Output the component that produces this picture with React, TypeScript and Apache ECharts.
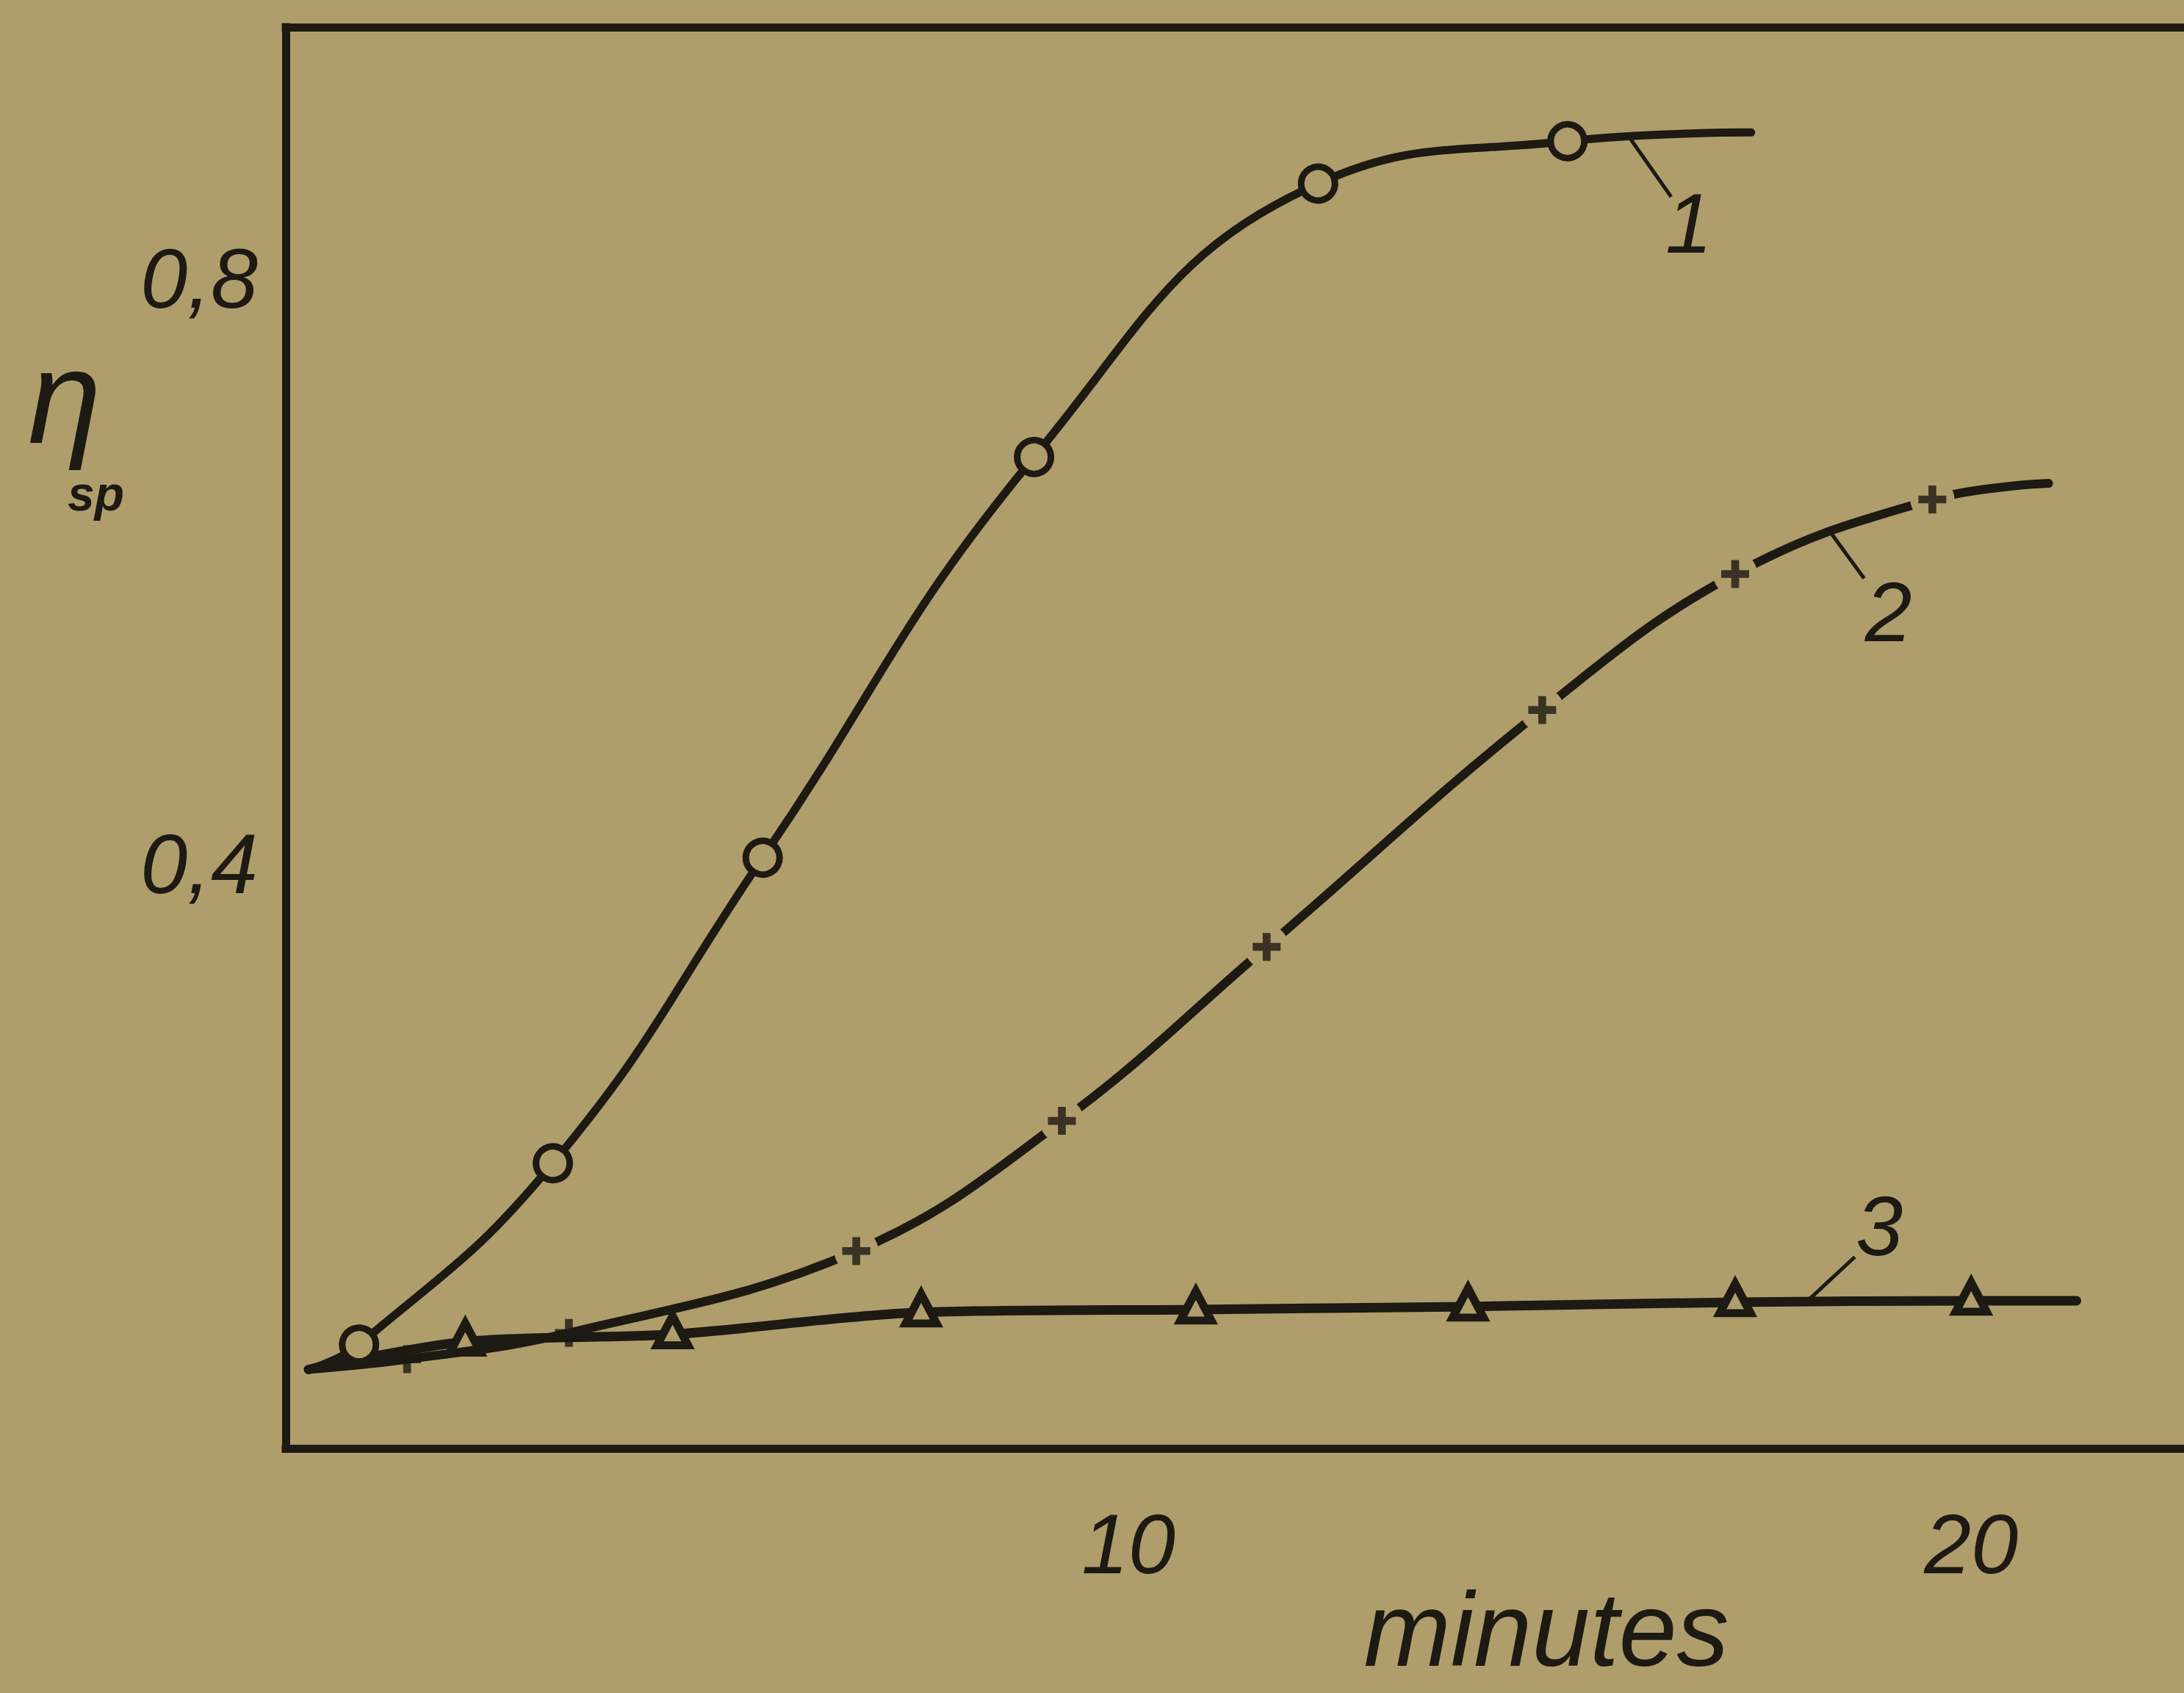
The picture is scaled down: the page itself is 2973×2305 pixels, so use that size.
import React, { useEffect, useRef } from 'react';
import * as echarts from 'echarts';

// ---- data (minutes, specific viscosity) ----
const curve1X = [0.27, 0.87, 3.17, 5.66, 8.88, 12.25, 15.21, 17.39];
const curve1Y = [0.054, 0.071, 0.195, 0.404, 0.678, 0.865, 0.894, 0.9];
const curve1Marked = [false, true, true, true, true, true, true, false];

const curve2X = [0.27, 1.44, 3.36, 6.77, 9.21, 11.64, 14.91, 17.2, 19.54, 20.92];
const curve2Y = [0.054, 0.061, 0.079, 0.135, 0.224, 0.343, 0.505, 0.598, 0.649, 0.66];
const curve2Marked = [false, true, true, true, true, true, true, true, true, false];

const curve3X = [0.27, 2.13, 4.59, 7.54, 10.8, 14.03, 17.2, 20.0, 21.25];
const curve3Y = [0.054, 0.073, 0.078, 0.093, 0.095, 0.097, 0.1, 0.101, 0.101];
const curve3Marked = [false, true, true, true, true, true, true, true, false];

const xTickLabels = [10, 20];
const yTickLabels = [0.4, 0.8];

const curveNames = ['1', '2', '3'];
const curveLabelPos = [[16.65, 0.838], [19.02, 0.572], [18.91, 0.152]];
const leaderStart = [[15.94, 0.897], [18.35, 0.625], [18.08, 0.102]];
const leaderEnd = [[16.44, 0.856], [18.73, 0.595], [18.62, 0.131]];

const BG = '#af9d6b';
const INK = '#1d1913';
const FONT = '"Liberation Sans", Arial, sans-serif';
const PLUS = 'path://M3.6,0 H6.4 V3.6 H10 V6.4 H6.4 V10 H3.6 V6.4 H0 V3.6 H3.6 Z';

export default function App() {
  const ref = useRef<HTMLDivElement>(null);

  useEffect(() => {
    document.body.style.margin = '0';
    document.body.style.overflow = 'hidden';
    const chart = echarts.init(ref.current!, null, { renderer: 'svg' });

    const s1 = curve1X.map((x, i) => ({
      value: [x, curve1Y[i]],
      symbol: curve1Marked[i] ? 'circle' : 'none',
    }));
    const s2gap = curve2X.map((x, i) => ({
      value: [x, curve2Y[i]],
      symbol: curve2Marked[i] && x > 5 ? 'circle' : 'none',
    }));
    const s2plus = curve2X
      .map((x, i) => ({ value: [x, curve2Y[i]], m: curve2Marked[i] }))
      .filter((d) => d.m)
      .map((d) => ({ value: d.value }));
    const s3 = curve3X.map((x, i) => ({
      value: [x, curve3Y[i]],
      symbol: curve3Marked[i] ? 'triangle' : 'none',
    }));

    const frameLine = { show: true, onZero: false, lineStyle: { color: INK, width: 11, cap: 'square' } };

    const option: any = {
      animation: false,
      backgroundColor: BG,
      grid: {
        left: 389,
        top: 37,
        bottom: 333,
        right: 0,
        show: false,
      },
      xAxis: [
        {
          type: 'value',
          position: 'bottom',
          min: 0,
          max: 22.5,
          interval: 10,
          axisLine: frameLine,
          axisTick: { show: false },
          splitLine: { show: false },
          showMaxLabel: false,
          axisLabel: {
            margin: 72,
            color: INK,
            fontFamily: FONT,
            fontStyle: 'italic',
            fontSize: 115,
            formatter: (v: number) => (xTickLabels.includes(v) ? String(v) : ''),
          },
        },
        {
          type: 'value',
          position: 'top',
          min: 0,
          max: 22.5,
          interval: 10,
          axisLine: frameLine,
          axisTick: { show: false },
          splitLine: { show: false },
          axisLabel: { show: false },
        },
      ],
      yAxis: {
        type: 'value',
        min: 0,
        max: 0.972,
        interval: 0.4,
        axisLine: frameLine,
        axisTick: { show: false },
        splitLine: { show: false },
        showMaxLabel: false,
        axisLabel: {
          margin: 38,
          color: INK,
          fontFamily: FONT,
          fontStyle: 'italic',
          fontSize: 115,
          formatter: (v: number) => {
            const hit = yTickLabels.find((t) => Math.abs(t - v) < 1e-6);
            return hit !== undefined ? hit.toFixed(1).replace('.', ',') : '';
          },
        },
      },
      series: [
        {
          name: '3',
          type: 'line',
          data: s3,
          smooth: 0.3,
          symbolSize: [42, 40],
          symbolOffset: [0, -5],
          itemStyle: { color: BG, borderColor: INK, borderWidth: 11 },
          lineStyle: { color: INK, width: 13, cap: 'round' },
          z: 2,
        },
        {
          name: '2',
          type: 'line',
          data: s2gap,
          smooth: 0.4,
          symbolSize: 60,
          itemStyle: { color: BG, borderWidth: 0 },
          lineStyle: { color: INK, width: 12, cap: 'round' },
          z: 3,
        },
        {
          name: '2 markers',
          type: 'scatter',
          data: s2plus,
          symbol: PLUS,
          symbolSize: 38,
          itemStyle: { color: INK },
          z: 4,
        },
        {
          name: '1',
          type: 'line',
          data: s1,
          smooth: 0.45,
          symbolSize: 46,
          itemStyle: { color: BG, borderColor: INK, borderWidth: 9 },
          lineStyle: { color: INK, width: 11, cap: 'round' },
          z: 5,
        },
      ],
    };
    chart.setOption(option);

    const px = (p: number[]) => chart.convertToPixel({ gridIndex: 0 }, p) as number[];
    const graphics: any[] = [];
    curveNames.forEach((name, i) => {
      const a = px(leaderStart[i]);
      const b = px(leaderEnd[i]);
      const c = px(curveLabelPos[i]);
      graphics.push({
        type: 'line',
        shape: { x1: a[0], y1: a[1], x2: b[0], y2: b[1] },
        style: { stroke: INK, lineWidth: 5 },
        z: 10,
      });
      graphics.push({
        type: 'text',
        x: c[0],
        y: c[1],
        style: {
          text: name,
          fill: INK,
          font: `italic 115px ${FONT}`,
          textAlign: 'center',
          textVerticalAlign: 'middle',
        },
        z: 10,
      });
    });
    graphics.push({
      type: 'text',
      x: 2105,
      y: 2218,
      style: {
        text: 'minutes',
        fill: INK,
        font: `italic 142px ${FONT}`,
        textAlign: 'center',
        textVerticalAlign: 'middle',
      },
    });
    graphics.push({
      type: 'text',
      x: 38,
      y: 540,
      style: {
        text: 'η',
        fill: INK,
        font: `italic 180px ${FONT}`,
        textAlign: 'left',
        textVerticalAlign: 'middle',
      },
    });
    graphics.push({
      type: 'text',
      x: 92,
      y: 672,
      style: {
        text: 'sp',
        fill: INK,
        font: `italic bold 66px ${FONT}`,
        textAlign: 'left',
        textVerticalAlign: 'middle',
      },
    });
    chart.setOption({ graphic: graphics });

    return () => chart.dispose();
  }, []);

  return <div ref={ref} style={{ width: 2973, height: 2305 }} />;
}
